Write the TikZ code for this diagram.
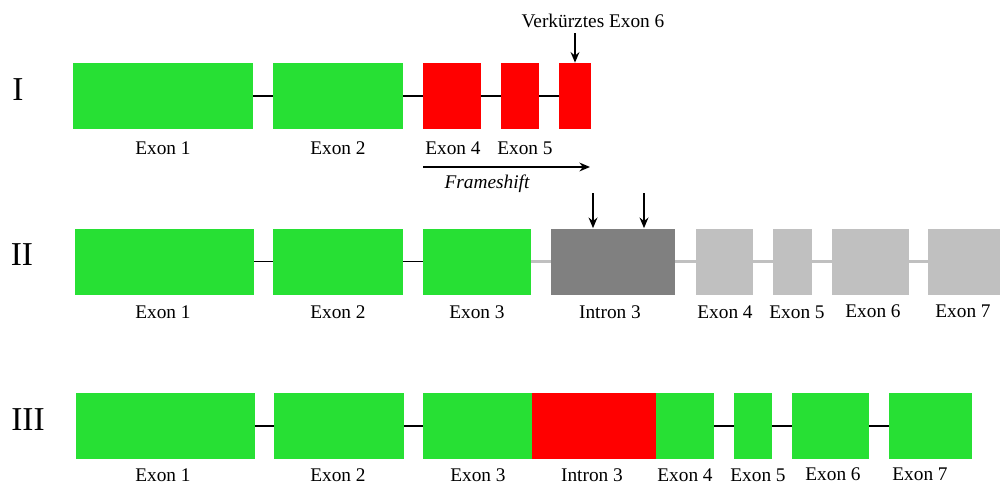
\documentclass[tikz,border=0pt]{standalone}
\usepackage{fontspec}
\setmainfont{Liberation Serif}
\usetikzlibrary{arrows.meta}
\definecolor{exongreen}{RGB}{39,224,52}
\definecolor{mutred}{RGB}{255,0,0}
\definecolor{introngray}{RGB}{128,128,128}
\definecolor{lostgray}{RGB}{192,192,192}
\tikzset{
  seg/.style={rectangle, inner sep=0pt, minimum height=1.32cm, fill=exongreen},
  wd/.style={minimum width=#1*0.02cm},
  lbl/.style={font=\fontsize{11}{13}\selectfont, inner sep=0pt},
  rownum/.style={font=\fontsize{19}{22}\selectfont, inner sep=0pt},
  link/.style={line width=1pt},
  marker/.style={line width=1pt, -{Stealth[length=6pt,width=5pt]}},
}
\begin{document}
\begin{tikzpicture}[x=0.02cm, y=-0.02cm]
  \useasboundingbox (0,0) rectangle (1000,484);

  % I: verkuerztes Transkript
  \node[rownum] (r1) at (18,90) {I};
  \node[seg, wd=180] (a1) at (163,96) {};
  \node[seg, wd=130] (a2) at (338,96) {};
  \node[seg, wd=58, fill=mutred] (a4) at (452,96) {};
  \node[seg, wd=38, fill=mutred] (a5) at (520,96) {};
  \node[seg, wd=32, fill=mutred] (a6) at (575,96) {};
  \begin{scope}[link]
    \draw (a1) -- (a2);
    \draw (a2) -- (a4);
    \draw (a4) -- (a5);
    \draw (a5) -- (a6);
  \end{scope}
  \node[lbl] (la1) at (163,148) {Exon 1};
  \node[lbl] (la2) at (338,148) {Exon 2};
  \node[lbl] (la4) at (453,148) {Exon 4};
  \node[lbl] (la5) at (525,148) {Exon 5};
  \node[lbl] (vk) at (593,21) {Verkürztes Exon 6};
  \coordinate (vk0) at (575,33);
  \draw[marker] (vk0) -- (a6.north);
  \coordinate (fs0) at (423,167);
  \coordinate (fs1) at (590,167);
  \draw[marker] (fs0) -- (fs1);
  \node[lbl] (fs) at (487,184) {\itshape Frameshift};

  % II: Intron 3 bleibt erhalten
  \node[rownum] (r2) at (22,255) {II};
  \node[seg, wd=179] (b1) at (164.5,261.5) {};
  \node[seg, wd=130] (b2) at (338,261.5) {};
  \node[seg, wd=108] (b3) at (477,261.5) {};
  \node[seg, wd=124, fill=introngray] (bi) at (613,261.5) {};
  \node[seg, wd=57, fill=lostgray] (b4) at (724.5,261.5) {};
  \node[seg, wd=39, fill=lostgray] (b5) at (792.5,261.5) {};
  \node[seg, wd=77, fill=lostgray] (b6) at (870.5,261.5) {};
  \node[seg, wd=72, fill=lostgray] (b7) at (964,261.5) {};
  \begin{scope}[link]
    \draw (b1) -- (b2);
    \draw (b2) -- (b3);
  \end{scope}
  \begin{scope}[link, lostgray, line width=1.2pt]
    \draw (b3) -- (bi);
    \draw (bi) -- (b4);
    \draw (b4) -- (b5);
    \draw (b5) -- (b6);
    \draw (b6) -- (b7);
  \end{scope}
  \node[lbl] (lb1) at (163,312) {Exon 1};
  \node[lbl] (lb2) at (338,312) {Exon 2};
  \node[lbl] (lb3) at (477,312) {Exon 3};
  \node[lbl] (lbi) at (610,312) {Intron 3};
  \node[lbl] (lb4) at (725,312) {Exon 4};
  \node[lbl] (lb5) at (797,312) {Exon 5};
  \node[lbl] (lb6) at (873,311) {Exon 6};
  \node[lbl] (lb7) at (963,311) {Exon 7};
  \coordinate (p0) at (593,193);
  \coordinate (q0) at (644,193);
  \draw[marker] (p0) -- (p0 |- bi.north);
  \draw[marker] (q0) -- (q0 |- bi.north);

  % III: Intron 3 im Leseraster
  \node[rownum] (r3) at (28,420) {III};
  \node[seg, wd=179] (c1) at (165.5,426) {};
  \node[seg, wd=130] (c2) at (339,426) {};
  \node[seg, wd=109] (c3) at (477.5,426) {};
  \node[seg, wd=124, fill=mutred] (ci) at (594,426) {};
  \node[seg, wd=58] (c4) at (685,426) {};
  \node[seg, wd=38] (c5) at (753,426) {};
  \node[seg, wd=77] (c6) at (830.5,426) {};
  \node[seg, wd=83] (c7) at (930.5,426) {};
  \begin{scope}[link]
    \draw (c1) -- (c2);
    \draw (c2) -- (c3);
    \draw (c4) -- (c5);
    \draw (c5) -- (c6);
    \draw (c6) -- (c7);
  \end{scope}
  \node[lbl] (lc1) at (163,475) {Exon 1};
  \node[lbl] (lc2) at (338,475) {Exon 2};
  \node[lbl] (lc3) at (478,475) {Exon 3};
  \node[lbl] (lci) at (592,475) {Intron 3};
  \node[lbl] (lc4) at (685,475) {Exon 4};
  \node[lbl] (lc5) at (758,475) {Exon 5};
  \node[lbl] (lc6) at (833,474) {Exon 6};
  \node[lbl] (lc7) at (920,474) {Exon 7};
\end{tikzpicture}
\end{document}
